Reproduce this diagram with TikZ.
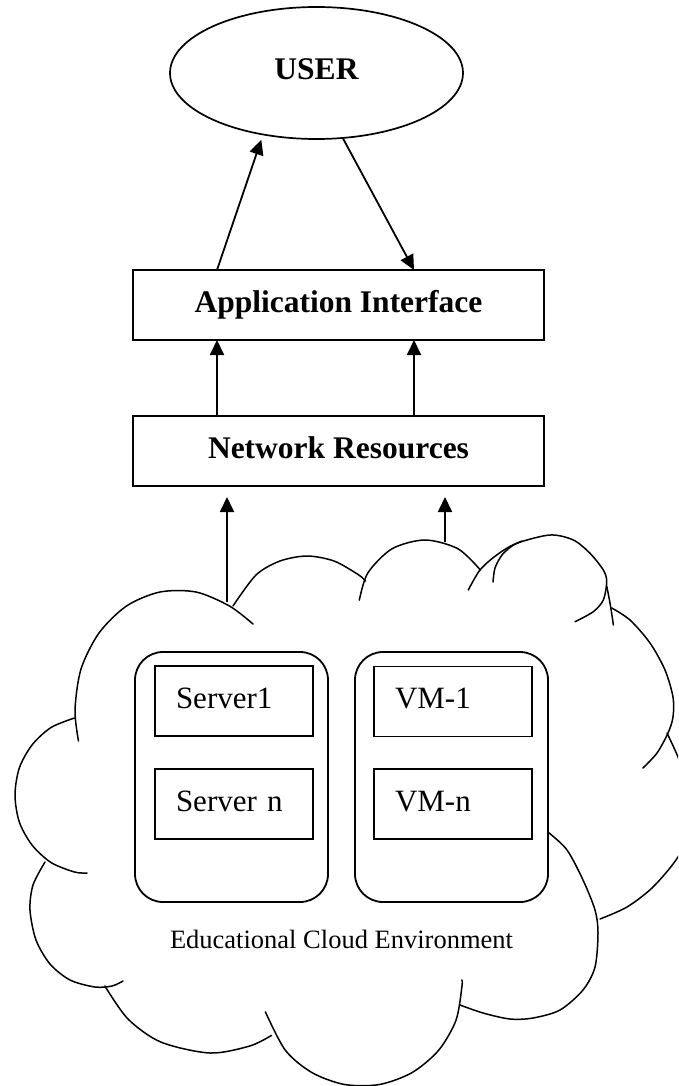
\documentclass[tikz,border=0pt]{standalone}
\usepackage{fontspec}
\setmainfont{Liberation Serif}
\usetikzlibrary{shapes.geometric,arrows.meta}
\begin{document}
\begin{tikzpicture}[x=1pt,y=-1pt,
  cloudline/.style={line width=1.5pt, line join=round, line cap=round},
  box/.style={draw, line width=1.8pt, rectangle, inner sep=0pt, outer sep=0pt},
  mainbox/.style={box, minimum width=411pt, minimum height=70pt, font=\fontsize{31.5}{36}\selectfont\bfseries, text height=21pt, text depth=7pt},
  grpbox/.style={draw, line width=1.8pt, rounded corners=28pt, fill=white, minimum width=193pt, minimum height=250pt, inner sep=0pt, outer sep=0pt},
  itembox/.style={box, fill=white, minimum height=70pt, text width=116pt, inner xsep=21pt, align=left, font=\fontsize{31}{36}\selectfont, text height=21pt, text depth=7pt},
  arr/.style={line width=1.8pt, -{Triangle[length=15pt,width=14pt]}}
]
\useasboundingbox (0,0) rectangle (678,1086);
\fill[white] (0,0) rectangle (678,1086);
\clip (0,0) rectangle (678,1086);

% ---- cloud ----
% bump A (upper left)
\draw[cloudline] plot[smooth] coordinates {(78.5,741) (75,710) (81,669) (99,633) (126.5,606) (160,592) (196,592) (229.5,606) (253,624)};
% bump 2
\draw[cloudline] plot[smooth] coordinates {(233,606) (256,575) (280,561) (307,556) (334,561) (358.4,574.7) (365.5,581)};
% bump 3
\draw[cloudline] plot[smooth] coordinates {(359.3,600.2) (367.8,573) (392,548.8) (425,540) (458,548.8) (480.4,570)};
% bump 4 outer
\draw[cloudline] plot[smooth] coordinates {(468.3,590) (480,570) (496.7,555) (516.7,543.3) (550,535) (573.3,540) (590,553.3) (603.3,570) (606.7,581.7) (603.3,600) (593.3,611.7) (575,621.7)};
% bump 4 inner
\draw[cloudline] plot[smooth] coordinates {(493,582) (495,568) (502,555) (512,546) (522,541)};
% short stroke
\draw[cloudline] plot[smooth] coordinates {(606.7,586) (610,603) (612.7,620) (613.3,625)};
% bump 5
\draw[cloudline] plot[smooth] coordinates {(611.7,608) (630,620) (650,643) (665,670) (673,697) (673,717) (668,733) (657,753) (643,768)};
% bump 6 (partly outside)
\draw[cloudline] plot[smooth] coordinates {(667,733) (678,757) (690,790) (692,825) (678,857) (653,887) (627,907) (600,919)};
% bump 7 (lower right)
\draw[cloudline] plot[smooth] coordinates {(535,822) (548,832) (567,850) (583,880) (595,910) (598,933) (595,967) (583,990) (560,1010) (533,1018) (510,1019) (483,1013) (460,1005)};
% bump 8 (bottom)
\draw[cloudline] plot[smooth] coordinates {(461.8,980) (462,986) (456,1020.2) (438.6,1050.3) (412,1072.6) (379.4,1084.5) (344.6,1084.5) (312,1072.6) (285.4,1050.3) (265.4,1011.9)};
% bump D
\draw[cloudline] plot[smooth] coordinates {(271.5,1035.4) (249.7,1046) (210,1053) (161,1042.1) (128,1019) (104.9,986)};
% bump C
\draw[cloudline] plot[smooth] coordinates {(123,981) (112,986) (95,987) (70,980) (50,964) (36,940) (30,910) (33,885) (45,862)};
% bump B
\draw[cloudline] plot[smooth] coordinates {(87,873) (74.5,872) (51,862.5) (32,845) (19.3,822) (15,795) (19.3,768) (32,745) (51,727.5) (74.5,718)};

% ---- groups inside the cloud ----
\node[grpbox] (lgrp) at (231.5,777) {};
\node[grpbox] (rgrp) at (451.5,777) {};
\node[itembox] (s1) at (234,701) {Server1};
\node[itembox] (sn) at (234,804) {Server n};
\node[itembox] (v1) at (453,701.5) {VM-1};
\node[itembox] (vn) at (453,804) {VM-n};
\node[anchor=base, inner sep=0pt, font=\fontsize{26.5}{30}\selectfont] (env) at (341.5,948) {Educational Cloud Environment};

% ---- upper part ----
\node[draw, ellipse, line width=1.7pt, minimum width=293pt, minimum height=132pt, inner sep=0pt, outer sep=0pt,
      font=\fontsize{31.5}{36}\selectfont\bfseries, text height=21pt, text depth=7pt] (user) at (316.5,73) {USER};
\node[mainbox] (app) at (338.5,305) {Application Interface};
\node[mainbox] (net) at (338.5,451) {Network Resources};

\coordinate (c1) at (227,602);
\coordinate (c2) at (445,542);

\draw[arr, shorten >=5.5pt] ([xshift=-121.5pt]app.north) -- (user.229);
\draw[arr] (user.292) -- ([xshift=75.5pt]app.north);
\draw[arr] ([xshift=-121.5pt]net.north) -- ([xshift=-121.5pt]app.south);
\draw[arr] ([xshift=75.5pt]net.north) -- ([xshift=75.5pt]app.south);
\draw[arr, shorten >=11pt] (c1) -- ([xshift=-111.5pt]net.south);
\draw[arr, shorten >=11pt] (c2) -- ([xshift=106.5pt]net.south);
\end{tikzpicture}
\end{document}
